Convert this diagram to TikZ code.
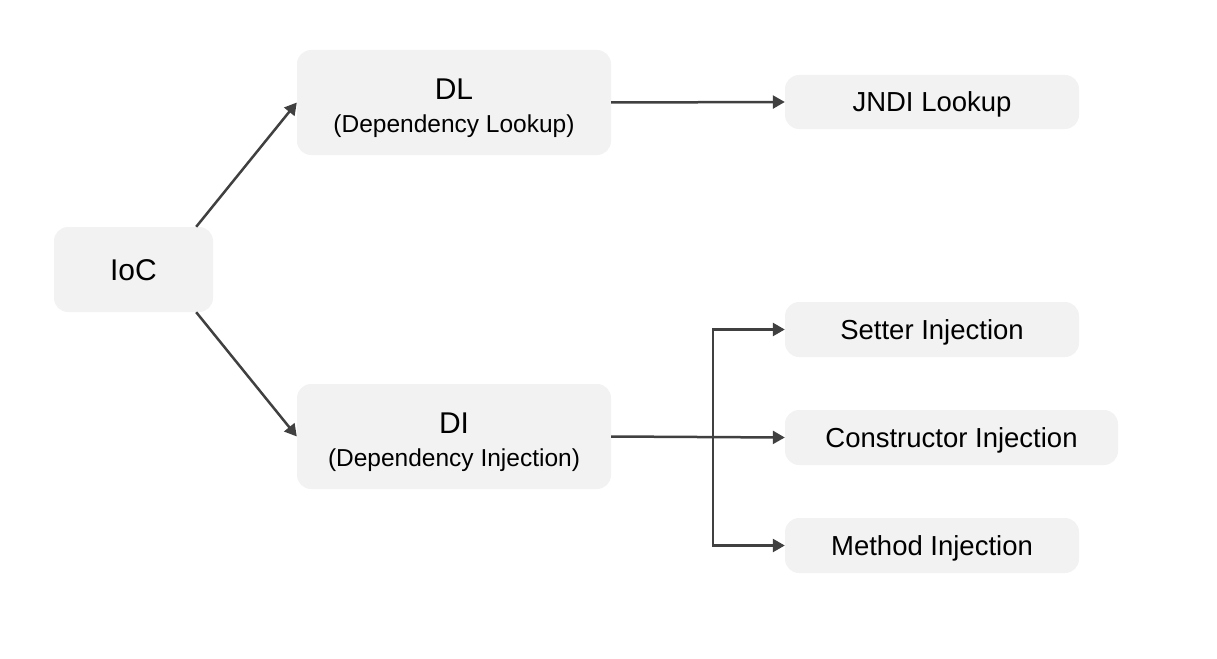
\documentclass[tikz,border=0pt]{standalone}
\usepackage{fontspec}
\setmainfont{Liberation Sans}
\usetikzlibrary{arrows.meta,positioning,calc}
\definecolor{boxgray}{RGB}{242,242,242}
\definecolor{linegray}{RGB}{64,64,64}

\tikzset{
  box/.style={fill=boxgray, rounded corners=14pt, inner sep=0pt, align=center},
  arr/.style={-{Triangle[length=12pt,width=13pt]}, draw=linegray, line width=2.5pt},
  big/.style={font=\fontsize{30}{34}\selectfont, text height=21.5pt, text depth=0pt},
  sub/.style={font=\fontsize{24.5}{28}\selectfont, text height=17.5pt, text depth=0pt},
  small/.style={font=\fontsize{27.5}{30}\selectfont, text height=19.7pt, text depth=0pt}
}

\begin{document}
\begin{tikzpicture}[x=1pt,y=-1pt]
  \useasboundingbox (0,0) rectangle (1217,658);

  % Main boxes
  \node[box,big,minimum width=159pt,minimum height=85pt] (ioc) at (133.5,269.5) {IoC};
  \node[box,minimum width=314pt,minimum height=105pt] (dl) at (454,102.5) {};
  \node[box,minimum width=314pt,minimum height=105pt] (di) at (454,436.5) {};

  % Labels inside DL and DI
  \node[big,inner sep=0pt] (dlname) at (454,88.5) {DL};
  \node[sub,inner sep=0pt] (dlsub) at (454,123.5) {(Dependency Lookup)};
  \node[big,inner sep=0pt] (diname) at (454,422.5) {DI};
  \node[sub,inner sep=0pt] (disub) at (454,457.5) {(Dependency Injection)};

  % Leaf boxes
  \node[box,small,minimum width=294pt,minimum height=54pt] (jndi) at (932,102) {JNDI Lookup};
  \node[box,small,minimum width=294pt,minimum height=55pt] (setter) at (932,329.5) {Setter Injection};
  \node[box,small,minimum width=333pt,minimum height=55pt] (ctor) at (951.5,437.5) {Constructor Injection};
  \node[box,small,minimum width=294pt,minimum height=55pt] (method) at (932,545.5) {Method Injection};

  % Connectors
  \draw[arr] ($(ioc.north east)+(-17,0)$) -- (dl.west);
  \draw[arr] ($(ioc.south east)+(-17,0)$) -- (di.west);
  \draw[arr] (dl.east) -- (jndi.west);
  \draw[arr] (di.east) -- (ctor.west);
  \coordinate (split) at ($(di.east)+(102,0)$);
  \draw[arr] (split) |- (setter.west);
  \draw[arr] (split) |- (method.west);

\end{tikzpicture}
\end{document}
